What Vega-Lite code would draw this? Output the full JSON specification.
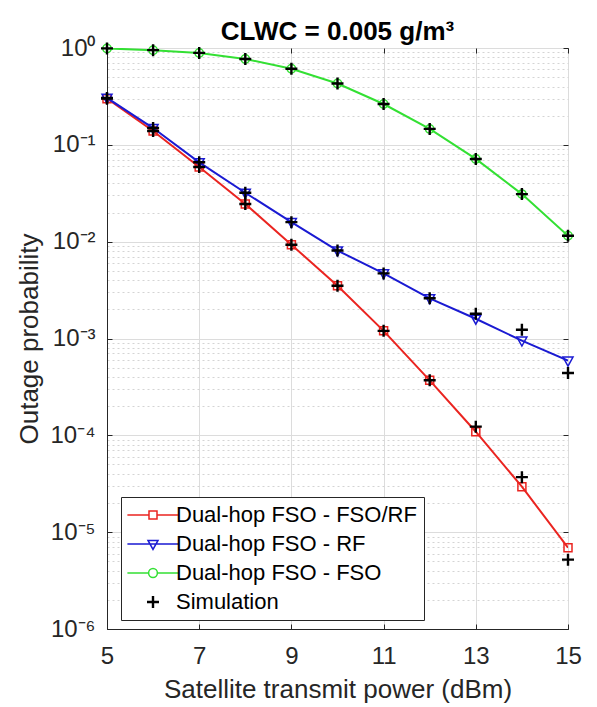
{
  "$schema": "https://vega.github.io/schema/vega-lite/v6.json",
  "width": 461,
  "height": 581,
  "autosize": {"type": "none"},
  "padding": {"left": 107, "top": 48, "right": 29, "bottom": 78},
  "background": "white",
  "config": {
    "font": "Liberation Sans",
    "view": {"stroke": "#262626", "strokeWidth": 1}
  },
  "title": {
    "text": "CLWC = 0.005 g/m³",
    "fontSize": 26,
    "fontWeight": "bold",
    "color": "black",
    "anchor": "middle",
    "offset": -9
  },
  "datasets": {
    "curves": [
      {"x": 5, "y": 0.30, "series": "Dual-hop FSO - FSO/RF"},
      {"x": 6, "y": 0.139, "series": "Dual-hop FSO - FSO/RF"},
      {"x": 7, "y": 0.059, "series": "Dual-hop FSO - FSO/RF"},
      {"x": 8, "y": 0.0245, "series": "Dual-hop FSO - FSO/RF"},
      {"x": 9, "y": 0.0093, "series": "Dual-hop FSO - FSO/RF"},
      {"x": 10, "y": 0.0035, "series": "Dual-hop FSO - FSO/RF"},
      {"x": 11, "y": 0.0012, "series": "Dual-hop FSO - FSO/RF"},
      {"x": 12, "y": 0.00037, "series": "Dual-hop FSO - FSO/RF"},
      {"x": 13, "y": 0.000109, "series": "Dual-hop FSO - FSO/RF"},
      {"x": 14, "y": 0.0000295, "series": "Dual-hop FSO - FSO/RF"},
      {"x": 15, "y": 0.0000069, "series": "Dual-hop FSO - FSO/RF"},
      {"x": 5, "y": 0.305, "series": "Dual-hop FSO - RF"},
      {"x": 6, "y": 0.149, "series": "Dual-hop FSO - RF"},
      {"x": 7, "y": 0.066, "series": "Dual-hop FSO - RF"},
      {"x": 8, "y": 0.032, "series": "Dual-hop FSO - RF"},
      {"x": 9, "y": 0.0159, "series": "Dual-hop FSO - RF"},
      {"x": 10, "y": 0.0081, "series": "Dual-hop FSO - RF"},
      {"x": 11, "y": 0.0047, "series": "Dual-hop FSO - RF"},
      {"x": 12, "y": 0.0026, "series": "Dual-hop FSO - RF"},
      {"x": 13, "y": 0.0016, "series": "Dual-hop FSO - RF"},
      {"x": 14, "y": 0.00095, "series": "Dual-hop FSO - RF"},
      {"x": 15, "y": 0.00059, "series": "Dual-hop FSO - RF"},
      {"x": 5, "y": 0.99, "series": "Dual-hop FSO - FSO"},
      {"x": 6, "y": 0.95, "series": "Dual-hop FSO - FSO"},
      {"x": 7, "y": 0.89, "series": "Dual-hop FSO - FSO"},
      {"x": 8, "y": 0.77, "series": "Dual-hop FSO - FSO"},
      {"x": 9, "y": 0.61, "series": "Dual-hop FSO - FSO"},
      {"x": 10, "y": 0.43, "series": "Dual-hop FSO - FSO"},
      {"x": 11, "y": 0.264, "series": "Dual-hop FSO - FSO"},
      {"x": 12, "y": 0.146, "series": "Dual-hop FSO - FSO"},
      {"x": 13, "y": 0.0715, "series": "Dual-hop FSO - FSO"},
      {"x": 14, "y": 0.031, "series": "Dual-hop FSO - FSO"},
      {"x": 15, "y": 0.0115, "series": "Dual-hop FSO - FSO"}
    ],
    "sim": [
      {"x": 5, "y": 0.30, "series": "Simulation"},
      {"x": 6, "y": 0.139, "series": "Simulation"},
      {"x": 7, "y": 0.059, "series": "Simulation"},
      {"x": 8, "y": 0.0245, "series": "Simulation"},
      {"x": 9, "y": 0.0093, "series": "Simulation"},
      {"x": 10, "y": 0.0035, "series": "Simulation"},
      {"x": 11, "y": 0.0012, "series": "Simulation"},
      {"x": 12, "y": 0.00037, "series": "Simulation"},
      {"x": 13, "y": 0.000123, "series": "Simulation"},
      {"x": 14, "y": 0.000037, "series": "Simulation"},
      {"x": 15, "y": 0.0000052, "series": "Simulation"},
      {"x": 5, "y": 0.305, "series": "Simulation"},
      {"x": 6, "y": 0.149, "series": "Simulation"},
      {"x": 7, "y": 0.066, "series": "Simulation"},
      {"x": 8, "y": 0.032, "series": "Simulation"},
      {"x": 9, "y": 0.0159, "series": "Simulation"},
      {"x": 10, "y": 0.0081, "series": "Simulation"},
      {"x": 11, "y": 0.0047, "series": "Simulation"},
      {"x": 12, "y": 0.0026, "series": "Simulation"},
      {"x": 13, "y": 0.0018, "series": "Simulation"},
      {"x": 14, "y": 0.00123, "series": "Simulation"},
      {"x": 15, "y": 0.00044, "series": "Simulation"},
      {"x": 5, "y": 0.99, "series": "Simulation"},
      {"x": 6, "y": 0.95, "series": "Simulation"},
      {"x": 7, "y": 0.89, "series": "Simulation"},
      {"x": 8, "y": 0.77, "series": "Simulation"},
      {"x": 9, "y": 0.61, "series": "Simulation"},
      {"x": 10, "y": 0.43, "series": "Simulation"},
      {"x": 11, "y": 0.264, "series": "Simulation"},
      {"x": 12, "y": 0.146, "series": "Simulation"},
      {"x": 13, "y": 0.0715, "series": "Simulation"},
      {"x": 14, "y": 0.031, "series": "Simulation"},
      {"x": 15, "y": 0.0115, "series": "Simulation"}
    ]
  },
  "layer": [
    {
      "data": {"name": "curves"},
      "mark": {"type": "rule", "opacity": 0},
      "encoding": {
        "x": {
          "field": "x", "type": "quantitative",
          "scale": {"domain": [5, 15], "nice": false, "zero": false},
          "axis": {"orient": "top", "values": [5, 7, 9, 11, 13, 15], "title": null, "labels": false, "grid": false, "domain": false, "tickColor": "#262626", "tickSize": -5}
        },
        "y": {
          "field": "y", "type": "quantitative",
          "scale": {"type": "log", "domain": [0.000001, 1], "nice": false},
          "axis": {
            "orient": "left",
            "values": [0.000002, 0.000003, 0.000004, 0.000005, 0.000006, 0.000007, 0.000008, 0.000009,
                       0.00002, 0.00003, 0.00004, 0.00005, 0.00006, 0.00007, 0.00008, 0.00009,
                       0.0002, 0.0003, 0.0004, 0.0005, 0.0006, 0.0007, 0.0008, 0.0009,
                       0.002, 0.003, 0.004, 0.005, 0.006, 0.007, 0.008, 0.009,
                       0.02, 0.03, 0.04, 0.05, 0.06, 0.07, 0.08, 0.09,
                       0.2, 0.3, 0.4, 0.5, 0.6, 0.7, 0.8, 0.9],
            "title": null, "labels": false, "ticks": false, "domain": false,
            "grid": true, "gridColor": "#d4d4d4", "gridDash": [2, 3], "gridWidth": 1
          }
        }
      }
    },
    {
      "data": {"name": "curves"},
      "transform": [{"filter": "datum.series === 'Dual-hop FSO - FSO/RF'"}],
      "mark": {"type": "point", "shape": "square", "filled": false, "opacity": 1, "strokeWidth": 1.5, "size": 64, "clip": false},
      "encoding": {
        "x": {
          "field": "x", "type": "quantitative",
          "scale": {"domain": [5, 15], "nice": false, "zero": false},
          "axis": {
            "orient": "bottom",
            "values": [5, 7, 9, 11, 13, 15],
            "title": "Satellite transmit power (dBm)",
            "titleFontSize": 26, "titleFontWeight": "normal", "titleColor": "#262626", "titlePadding": 8,
            "labelFontSize": 24, "labelColor": "#262626", "labelPadding": 20, "labelFlush": false,
            "grid": true, "gridColor": "#dcdcdc", "gridWidth": 1,
            "domainColor": "#262626", "tickColor": "#262626", "tickSize": -5
          }
        },
        "y": {
          "field": "y", "type": "quantitative",
          "scale": {"type": "log", "domain": [0.000001, 1], "nice": false},
          "axis": {
            "orient": "left",
            "values": [0.000001, 0.00001, 0.0001, 0.001, 0.01, 0.1, 1],
            "labelExpr": "datum.value >= 1 ? '10⁰' : datum.value >= 0.1 ? '10⁻¹' : datum.value >= 0.01 ? '10⁻²' : datum.value >= 0.001 ? '10⁻³' : datum.value >= 0.0001 ? '10⁻⁴' : datum.value >= 0.00001 ? '10⁻⁵' : '10⁻⁶'",
            "title": "Outage probability",
            "titleFontSize": 26, "titleFontWeight": "normal", "titleColor": "#262626", "titlePadding": 7,
            "labelFontSize": 24, "labelColor": "#262626", "labelPadding": 17, "labelFlush": false,
            "grid": true, "gridColor": "#dcdcdc",
            "domainColor": "#262626", "tickColor": "#262626", "tickSize": -5
          }
        },
        "color": {
          "field": "series", "type": "nominal",
          "scale": {
            "domain": ["Dual-hop FSO - FSO/RF", "Dual-hop FSO - RF", "Dual-hop FSO - FSO", "Simulation"],
            "range": ["#ea2420", "#1a1ad2", "#33e033", "#000000"]
          },
          "legend": {
            "title": null,
            "orient": "none",
            "legendX": 14,
            "legendY": 449,
            "direction": "vertical",
            "fillColor": "white",
            "strokeColor": "#262626",
            "padding": 7,
            "labelFontSize": 22,
            "labelColor": "#000000",
            "labelLimit": 400,
            "rowPadding": 7,
            "symbolSize": 64,
            "symbolStrokeWidth": {"expr": "datum.value === 'Simulation' ? 2.4 : 1.5"},
            "symbolOffset": 14,
            "labelOffset": 12,
            "symbolFillColor": "transparent",
            "symbolType": {"expr": "datum.value === 'Dual-hop FSO - FSO/RF' ? 'M-6.4,0H-1M1,0H6.4M-1,-1H1V1H-1Z' : datum.value === 'Dual-hop FSO - RF' ? 'M-6.4,0H6.4M-1.25,-0.9H1.25L0,1.35Z' : datum.value === 'Dual-hop FSO - FSO' ? 'M-6.4,0H-1.1M1.1,0H6.4M-1.1,0A1.1,1.1 0 1,0 1.1,0A1.1,1.1 0 1,0 -1.1,0Z' : 'M-1.5,0H1.5M0,-1.5V1.5'"}
          }
        }
      }
    },
    {
      "data": {"name": "curves"},
      "transform": [{"filter": "datum.series === 'Dual-hop FSO - RF'"}],
      "mark": {"type": "point", "shape": "M-1.25,-0.9H1.25L0,1.35Z", "filled": false, "opacity": 1, "strokeWidth": 1.5, "size": 64, "clip": false},
      "encoding": {
        "x": {"field": "x", "type": "quantitative", "axis": null},
        "y": {"field": "y", "type": "quantitative", "axis": null},
        "color": {"field": "series", "type": "nominal"}
      }
    },
    {
      "data": {"name": "curves"},
      "transform": [{"filter": "datum.series === 'Dual-hop FSO - FSO'"}],
      "mark": {"type": "point", "shape": "circle", "filled": false, "opacity": 1, "strokeWidth": 1.5, "size": 70, "clip": false},
      "encoding": {
        "x": {"field": "x", "type": "quantitative", "axis": null},
        "y": {"field": "y", "type": "quantitative", "axis": null},
        "color": {"field": "series", "type": "nominal"}
      }
    },
    {
      "data": {"name": "curves"},
      "mark": {"type": "line", "strokeWidth": 2, "clip": true},
      "encoding": {
        "x": {"field": "x", "type": "quantitative", "axis": null},
        "y": {"field": "y", "type": "quantitative", "axis": null},
        "color": {"field": "series", "type": "nominal"}
      }
    },
    {
      "data": {"name": "sim"},
      "mark": {"type": "point", "shape": "M-1.5,0H1.5M0,-1.5V1.5", "filled": false, "opacity": 1, "strokeWidth": 2.4, "size": 64, "clip": false},
      "encoding": {
        "x": {"field": "x", "type": "quantitative", "axis": null},
        "y": {
          "field": "y", "type": "quantitative",
          "axis": {"orient": "right", "values": [0.000001, 0.00001, 0.0001, 0.001, 0.01, 0.1, 1], "title": null, "labels": false, "grid": false, "domain": false, "tickColor": "#262626", "tickSize": -5}
        },
        "color": {"field": "series", "type": "nominal"}
      }
    }
  ],
  "resolve": {"axis": {"y": "independent", "x": "independent"}}
}
